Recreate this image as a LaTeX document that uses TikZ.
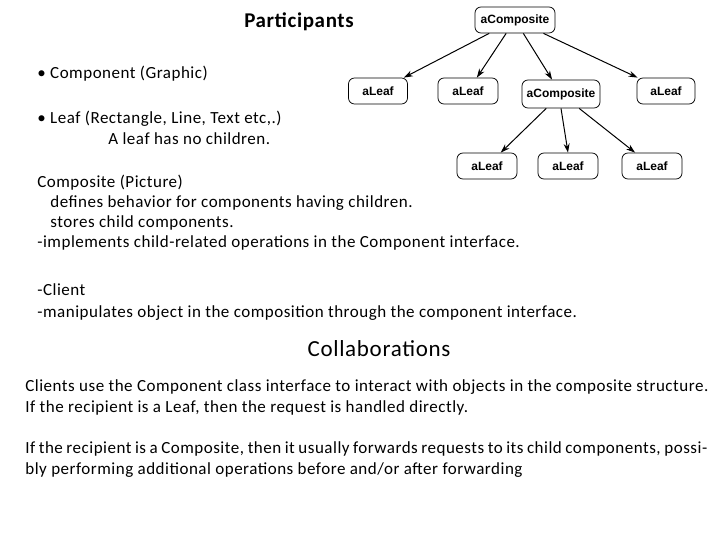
\documentclass[tikz,border=0pt]{standalone}
\usepackage{fontspec}
\setmainfont[LetterSpace=3]{Carlito}
\newfontfamily\treefont{Liberation Sans}
\usetikzlibrary{arrows.meta}
\tikzset{every picture/.style={line width=0.75pt}}
\tikzset{
  objbox/.style={draw,rounded corners=6pt,font=\treefont\bfseries\fontsize{12}{14}\selectfont,inner sep=0pt,minimum height=26pt},
  txt/.style={anchor=west,inner sep=0pt,font=\fontsize{17}{20}\selectfont},
  link/.style={-{Stealth[length=9pt,width=6pt]},line width=1pt}
}
\begin{document}
\begin{tikzpicture}[x=1pt,y=1pt,yscale=-1,xscale=1]
\useasboundingbox (0,0) rectangle (720,540);

%Tree of objects
\node [objbox,minimum width=80pt] (root) at (515,20) {aComposite};
\node [objbox,minimum width=59pt] (leafa) at (378,91) {aLeaf};
\node [objbox,minimum width=60pt] (leafb) at (468,91) {aLeaf};
\node [objbox,minimum width=78pt,minimum height=28pt] (comp) at (561,94) {aComposite};
\node [objbox,minimum width=58pt] (leafc) at (666,91) {aLeaf};
\node [objbox,minimum width=60pt] (leafd) at (487,166) {aLeaf};
\node [objbox,minimum width=60pt] (leafe) at (568,166) {aLeaf};
\node [objbox,minimum width=60pt] (leaff) at (652,166) {aLeaf};

\draw [link] (root) -- (leafa);
\draw [link] (root) -- (leafb);
\draw [link] (root) -- (comp);
\draw [link] (root) -- (leafc);
\draw [link] (comp) -- (leafd);
\draw [link] (comp.south) -- (leafe.north);
\draw [link] (comp) -- (leaff);

% Participants
\node [inner sep=0pt,font=\bfseries\fontsize{21}{24}\selectfont] (part) at (299,22) {Participants};
\node [txt] (t1) at (37,74) {\textbullet\ Component (Graphic)};
\node [txt] (t2) at (37,119) {\textbullet\ Leaf (Rectangle, Line, Text etc,.)};
\node [txt] (t3) at (108,139) {A leaf has no children.};
\node [txt] (t4) at (37,183) {Composite (Picture)};
\node [txt] (t5) at (50,203) {defines behavior for components having children.};
\node [txt] (t6) at (50,223) {stores child components.};
\node [txt] (t7) at (37,243) {-implements child-related operations in the Component interface.};
\node [txt] (t8) at (37,290) {-Client};
\node [txt] (t9) at (37,313) {-manipulates object in the composition through the component interface.};

% Collaborations
\node [inner sep=0pt,font=\fontsize{23}{26}\selectfont] (coll) at (379,349) {Collaborations};
\node [txt] (c1) at (25,387) {Clients use the Component class interface to interact with objects in the composite structure.};
\node [txt] (c2) at (25,408) {If the recipient is a Leaf, then the request is handled directly.};
\node [anchor=north west,inner sep=0pt,text width=682pt,align=justify,font=\fontsize{17}{21}\selectfont] (c3) at (25,441)
  {If the recipient is a Composite, then it usually forwards requests to its child components, possibly performing additional operations before and/or after forwarding};
\end{tikzpicture}
\end{document}
